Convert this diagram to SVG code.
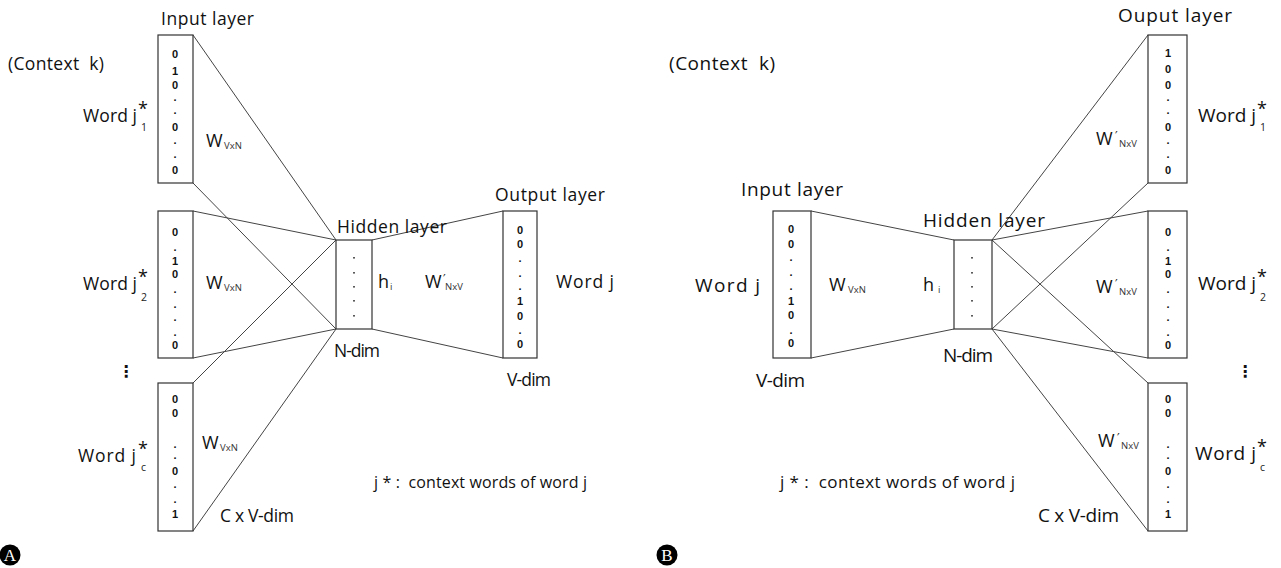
<svg xmlns="http://www.w3.org/2000/svg" width="1281" height="568" viewBox="0 0 1281 568">
<style>
text{font-family:"Open Sans","Noto Sans","Liberation Sans",sans-serif;fill:#111}
.lbA{font-size:17.5px}
.lbB{font-size:19px}
.d{font-family:"Liberation Sans",Arial,sans-serif;font-size:11px;font-weight:bold;text-anchor:middle}
.sub{font-size:9.5px;fill:#333}
.pr{font-family:"DejaVu Sans",sans-serif;font-size:12px;fill:#222}
.js{font-size:10.5px;fill:#222}
.W{font-size:18px}
.st{font-size:18px}
.box{fill:#fff;stroke:#333;stroke-width:1.2}
.ln{stroke:#444;stroke-width:1;fill:none}
.dot{fill:#333}
.circ{fill:#000}
.cl{font-family:"Liberation Serif","DejaVu Serif",serif;font-size:17px;fill:#fff;text-anchor:middle}
.vd{font-family:"DejaVu Sans",sans-serif;font-size:16px;font-weight:bold;text-anchor:middle}
</style>
<defs>
<g id="hdots">
<rect class="dot" x="-0.8" y="257" width="1.6" height="1.6"/>
<rect class="dot" x="-0.8" y="272" width="1.6" height="1.6"/>
<rect class="dot" x="-0.8" y="286" width="1.6" height="1.6"/>
<rect class="dot" x="-0.8" y="300" width="1.6" height="1.6"/>
<rect class="dot" x="-0.8" y="315" width="1.6" height="1.6"/>
</g>
</defs>
<rect width="1281" height="568" fill="#fff"/>

<!-- ===== Panel A ===== -->
<g id="connectors-A">
<line class="ln" x1="193" y1="35" x2="336" y2="240"/>
<line class="ln" x1="193" y1="183" x2="336" y2="329"/>
<line class="ln" x1="193" y1="211" x2="336" y2="240"/>
<line class="ln" x1="193" y1="358" x2="336" y2="329"/>
<line class="ln" x1="193" y1="383" x2="336" y2="240"/>
<line class="ln" x1="193" y1="531" x2="336" y2="329"/>
<line class="ln" x1="372" y1="240" x2="503" y2="211"/>
<line class="ln" x1="372" y1="329" x2="503" y2="358"/>
</g>

<g id="A-input1">
<rect class="box" x="158" y="35" width="35" height="148"/>
<text class="d" x="175" y="58">0</text><text class="d" x="175" y="75">1</text><text class="d" x="175" y="89">0</text>
<text class="d" x="175" y="101">.</text><text class="d" x="175" y="114">.</text><text class="d" x="175" y="131">0</text>
<text class="d" x="175" y="144">.</text><text class="d" x="175" y="158">.</text><text class="d" x="175" y="174">0</text>
</g>
<g id="A-input2">
<rect class="box" x="158" y="211" width="35" height="147"/>
<text class="d" x="175" y="236">0</text><text class="d" x="175" y="251">.</text><text class="d" x="175" y="265">1</text>
<text class="d" x="175" y="278">0</text><text class="d" x="175" y="293">.</text><text class="d" x="175" y="308">.</text>
<text class="d" x="175" y="321">.</text><text class="d" x="175" y="336">.</text><text class="d" x="175" y="349">0</text>
</g>
<g id="A-input3">
<rect class="box" x="158" y="383" width="35" height="148"/>
<text class="d" x="175" y="403">0</text><text class="d" x="175" y="417">0</text><text class="d" x="175" y="448">.</text>
<text class="d" x="175" y="459">.</text><text class="d" x="175" y="475">0</text><text class="d" x="175" y="488">.</text>
<text class="d" x="175" y="503">.</text><text class="d" x="175" y="518">1</text>
</g>
<g id="A-hidden">
<rect class="box" x="336" y="240" width="36" height="89"/>
<use href="#hdots" x="354"/>
</g>
<g id="A-output">
<rect class="box" x="503" y="211" width="34" height="147"/>
<text class="d" x="520" y="234">0</text><text class="d" x="520" y="248">0</text><text class="d" x="520" y="262">.</text>
<text class="d" x="520" y="277">.</text><text class="d" x="520" y="290">.</text><text class="d" x="520" y="305">1</text>
<text class="d" x="520" y="320">0</text><text class="d" x="520" y="334">.</text><text class="d" x="520" y="348">0</text>
</g>

<g id="A-labels">
<text class="lbA" x="161" y="25" textLength="93">Input layer</text>
<text class="lbA" x="8" y="70" textLength="96" xml:space="preserve">(Context  k)</text>
<text class="lbA" x="83" y="122" textLength="54">Word j</text><text class="st" x="138" y="115">*</text><text class="js" x="141" y="131">1</text>
<text class="lbA" x="83" y="290" textLength="54">Word j</text><text class="st" x="138" y="283">*</text><text class="js" x="141" y="301">2</text>
<text class="lbA" x="78" y="462" textLength="58">Word j</text><text class="st" x="138" y="455">*</text><text class="js" x="141" y="471">c</text>
<text class="vd" x="126" y="377">⋮</text>
<text class="W" x="206" y="147">W</text><text class="sub" x="224" y="149">VxN</text>
<text class="W" x="206" y="289">W</text><text class="sub" x="224" y="291">VxN</text>
<text class="W" x="202" y="449">W</text><text class="sub" x="220" y="451">VxN</text>
<text class="lbA" x="220" y="522" textLength="74" xml:space="preserve">C x V-dim</text>
<text class="lbA" x="337" y="233" textLength="110">Hidden layer</text>
<text class="W" x="378" y="288">h</text><text class="sub" x="390" y="290">i</text>
<text class="W" x="425" y="288">W</text><text class="pr" x="443" y="283">′</text><text class="sub" x="445" y="290">NxV</text>
<text class="lbA" x="495" y="201" textLength="110">Output layer</text>
<text class="lbA" x="556" y="288" textLength="58">Word j</text>
<text class="lbA" x="334" y="357" textLength="46">N-dim</text>
<text class="lbA" x="507" y="386" textLength="44">V-dim</text>
<text class="lbA" x="374" y="488" textLength="213" style="font-size:16px" xml:space="preserve">j * :  context words of word j</text>
</g>
<g id="A-badge">
<circle class="circ" cx="10" cy="555" r="10.5"/>
<text class="cl" x="10" y="561">A</text>
</g>

<!-- ===== Panel B ===== -->
<g id="connectors-B">
<line class="ln" x1="811" y1="211" x2="954" y2="240"/>
<line class="ln" x1="811" y1="358" x2="954" y2="329"/>
<line class="ln" x1="992" y1="240" x2="1148" y2="35"/>
<line class="ln" x1="992" y1="329" x2="1148" y2="183"/>
<line class="ln" x1="992" y1="240" x2="1148" y2="211"/>
<line class="ln" x1="992" y1="329" x2="1148" y2="358"/>
<line class="ln" x1="992" y1="240" x2="1148" y2="383"/>
<line class="ln" x1="992" y1="329" x2="1148" y2="531"/>
</g>

<g id="B-input">
<rect class="box" x="773" y="211" width="38" height="147"/>
<text class="d" x="791" y="233">0</text><text class="d" x="791" y="248">0</text><text class="d" x="791" y="261">.</text>
<text class="d" x="791" y="276">.</text><text class="d" x="791" y="290">.</text><text class="d" x="791" y="305">1</text>
<text class="d" x="791" y="319">0</text><text class="d" x="791" y="334">.</text><text class="d" x="791" y="347">0</text>
</g>
<g id="B-hidden">
<rect class="box" x="954" y="240" width="38" height="89"/>
<use href="#hdots" x="972"/>
</g>
<g id="B-output1">
<rect class="box" x="1148" y="35" width="39" height="148"/>
<text class="d" x="1168" y="57">1</text><text class="d" x="1168" y="73">0</text><text class="d" x="1168" y="89">0</text>
<text class="d" x="1168" y="101">.</text><text class="d" x="1168" y="114">.</text><text class="d" x="1168" y="131">0</text>
<text class="d" x="1168" y="144">.</text><text class="d" x="1168" y="158">.</text><text class="d" x="1168" y="174">0</text>
</g>
<g id="B-output2">
<rect class="box" x="1148" y="211" width="39" height="147"/>
<text class="d" x="1168" y="236">0</text><text class="d" x="1168" y="251">.</text><text class="d" x="1168" y="265">1</text>
<text class="d" x="1168" y="278">0</text><text class="d" x="1168" y="293">.</text><text class="d" x="1168" y="308">.</text>
<text class="d" x="1168" y="321">.</text><text class="d" x="1168" y="336">.</text><text class="d" x="1168" y="349">0</text>
</g>
<g id="B-output3">
<rect class="box" x="1148" y="383" width="39" height="148"/>
<text class="d" x="1168" y="403">0</text><text class="d" x="1168" y="417">0</text><text class="d" x="1168" y="448">.</text>
<text class="d" x="1168" y="459">.</text><text class="d" x="1168" y="475">0</text><text class="d" x="1168" y="488">.</text>
<text class="d" x="1168" y="503">.</text><text class="d" x="1168" y="518">1</text>
</g>

<g id="B-labels">
<text class="lbB" x="669" y="70" textLength="106" xml:space="preserve">(Context  k)</text>
<text class="lbB" x="741" y="196" textLength="102">Input layer</text>
<text class="lbB" x="695" y="292" textLength="65">Word j</text>
<text class="W" x="829" y="291">W</text><text class="sub" x="848" y="293">VxN</text>
<text class="W" x="923" y="291">h</text><text class="sub" x="938" y="293">i</text>
<text class="lbB" x="923" y="227" textLength="122">Hidden layer</text>
<text class="lbB" x="943" y="362" textLength="50">N-dim</text>
<text class="lbB" x="756" y="387" textLength="49">V-dim</text>
<text class="lbB" x="1118" y="22" textLength="114">Ouput layer</text>
<text class="W" x="1096" y="145">W</text><text class="pr" x="1115" y="140">′</text><text class="sub" x="1119" y="147">NxV</text>
<text class="W" x="1096" y="293">W</text><text class="pr" x="1115" y="288">′</text><text class="sub" x="1119" y="295">NxV</text>
<text class="W" x="1098" y="447">W</text><text class="pr" x="1117" y="442">′</text><text class="sub" x="1121" y="449">NxV</text>
<text class="lbB" x="1198" y="122" textLength="58">Word j</text><text class="st" x="1257" y="115">*</text><text class="js" x="1260" y="131">1</text>
<text class="lbB" x="1198" y="290" textLength="58">Word j</text><text class="st" x="1257" y="283">*</text><text class="js" x="1260" y="301">2</text>
<text class="lbB" x="1195" y="460" textLength="61">Word j</text><text class="st" x="1257" y="453">*</text><text class="js" x="1260" y="471">c</text>
<text class="vd" x="1245" y="377">⋮</text>
<text class="lbB" x="1038" y="522" textLength="81" xml:space="preserve">C x V-dim</text>
<text class="lbB" x="780" y="488" textLength="235" style="font-size:17px" xml:space="preserve">j * :  context words of word j</text>
</g>
<g id="B-badge">
<circle class="circ" cx="667" cy="555" r="10.5"/>
<text class="cl" x="667" y="561">B</text>
</g>
</svg>
